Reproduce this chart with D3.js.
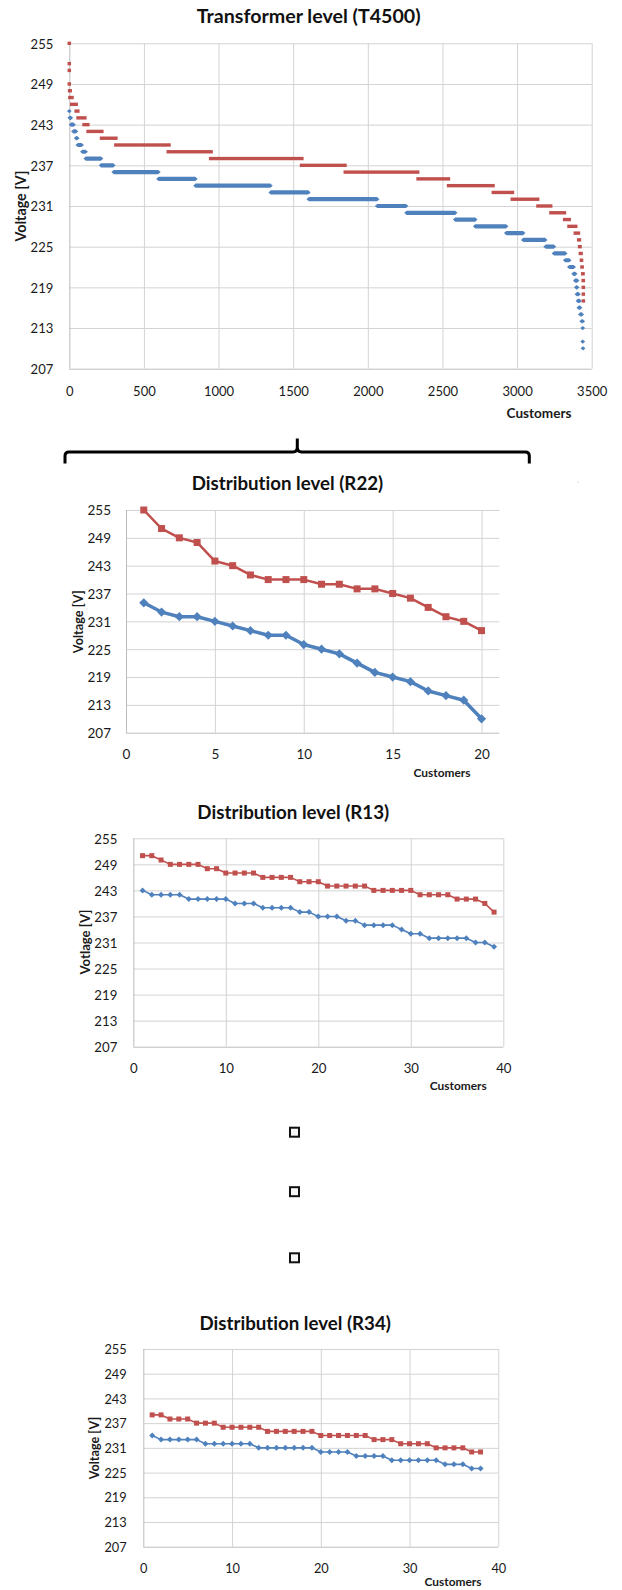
<!DOCTYPE html>
<html><head><meta charset="utf-8">
<script src="https://cdn.jsdelivr.net/npm/d3@7"></script>
<style>body{margin:0;background:#fff}svg{display:block}text{font-variant-ligatures:none;font-feature-settings:"liga" 0,"clig" 0}</style>
</head><body>
<svg id="c" width="622" height="1590"></svg>
<script>
// ---------------- DATA ----------------
const yTicks = [207, 213, 219, 225, 231, 237, 243, 249, 255];

// Transformer level (T4500): sorted voltages, shown as runs of customers at each voltage level
const t4500XTicks = [0, 500, 1000, 1500, 2000, 2500, 3000, 3500];
const t4500MaxV    = [255,252,251,249,248,247,246,245,244,243,242,241,240,239,238,237,236,235,234,233,232,231,230,229,228,227,226,225,224,223,222,221,220,219,218,217];
const t4500MaxFrom = [0,0,0,0,2,4,16,46,59,99,126,216,312,663,947,1556,1849,2337,2541,2841,2968,3140,3227,3319,3348,3390,3413,3419,3424,3431,3435,3440,3443,3444,3444,3444];
const t4500MaxTo   = [0,0,0,0,6,18,46,57,104,124,218,312,668,950,1558,1847,2334,2540,2839,2969,3138,3225,3317,3349,3393,3411,3418,3422,3429,3432,3436,3442,3444,3444,3444,3444];
const t4500MinV    = [245,244,243,242,241,240,239,238,237,236,235,234,233,232,231,230,229,228,227,226,225,224,223,222,221,220,219,218,217,216,215,214,213,211,210];
const t4500MinFrom = [0,3,12,28,46,57,88,111,213,298,598,846,1350,1605,2063,2260,2586,2720,2928,3042,3192,3248,3323,3350,3379,3390,3397,3401,3408,3414,3424,3433,3440,3440,3442];
const t4500MinTo   = [0,10,28,44,53,82,109,212,294,596,844,1347,1601,2062,2256,2585,2719,2926,3040,3188,3246,3322,3349,3379,3389,3402,3402,3411,3418,3422,3433,3440,3440,3440,3442];

// Distribution level (R22)
const r22XTicks = [0, 5, 10, 15, 20];
const r22Customers = [1,2,3,4,5,6,7,8,9,10,11,12,13,14,15,16,17,18,19,20];
const r22Max = [255,251,249,248,244,243,241,240,240,240,239,239,238,238,237,236,234,232,231,229];
const r22Min = [235,233,232,232,231,230,229,228,228,226,225,224,222,220,219,218,216,215,214,210];

// Distribution level (R13)
const r13XTicks = [0, 10, 20, 30, 40];
const r13Customers = [1,2,3,4,5,6,7,8,9,10,11,12,13,14,15,16,17,18,19,20,21,22,23,24,25,26,27,28,29,30,31,32,33,34,35,36,37,38,39];
const r13Max = [251,251,250,249,249,249,249,248,248,247,247,247,247,246,246,246,246,245,245,245,244,244,244,244,244,243,243,243,243,243,242,242,242,242,241,241,241,240,238];
const r13Min = [243,242,242,242,242,241,241,241,241,241,240,240,240,239,239,239,239,238,238,237,237,237,236,236,235,235,235,235,234,233,233,232,232,232,232,232,231,231,230];

// Distribution level (R34)
const r34XTicks = [0, 10, 20, 30, 40];
const r34Customers = [1,2,3,4,5,6,7,8,9,10,11,12,13,14,15,16,17,18,19,20,21,22,23,24,25,26,27,28,29,30,31,32,33,34,35,36,37,38];
const r34Max = [239,239,238,238,238,237,237,237,236,236,236,236,236,235,235,235,235,235,235,234,234,234,234,234,234,233,233,233,232,232,232,232,231,231,231,231,230,230];
const r34Min = [234,233,233,233,233,233,232,232,232,232,232,232,231,231,231,231,231,231,231,230,230,230,230,229,229,229,229,228,228,228,228,228,228,227,227,227,226,226];

// ---------------- DRAWING ----------------
const FONT = "Lato, 'Open Sans', sans-serif";
const RED = '#C0504D', BLUE = '#4F81BD';
const GRID = '#d3d3d3', AXIS = '#bdbdbd', TXT = '#1a1a1a';
const svg = d3.select('#c');

function fit(sel, target) {
  const w = sel.node().getComputedTextLength();
  const fs = parseFloat(sel.attr('font-size'));
  const nfs = fs * target / w;
  sel.attr('font-size', nfs.toFixed(2));
  return nfs;
}

function frame(cfg) {
  const x = d3.scaleLinear().domain(cfg.xDomain).range([cfg.left, cfg.right]);
  const y = d3.scaleLinear().domain([207, 255]).range([cfg.bottom, cfg.top]);
  const W = cfg.right - cfg.left, H = cfg.bottom - cfg.top;
  const g = svg.append('g');

  const ya = g.append('g').attr('transform', `translate(${cfg.left},0)`)
    .call(d3.axisLeft(y).tickValues(yTicks).tickSize(-W).tickPadding(cfg.left - cfg.yLabelRight).tickFormat(d3.format('d')));
  ya.select('.domain').remove();
  ya.selectAll('line').attr('stroke', d => d === 207 ? AXIS : GRID).attr('stroke-width', 1);
  const yt = ya.selectAll('text').attr('font-family', FONT).attr('font-size', 14).attr('fill', TXT).attr('dy', '0.36em');

  const xa = g.append('g').attr('transform', `translate(0,${cfg.bottom})`)
    .call(d3.axisBottom(x).tickValues(cfg.xTicks).tickSize(-H).tickPadding(0).tickFormat(d3.format('d')));
  xa.select('.domain').remove();
  xa.selectAll('line').attr('stroke', d => d === 0 ? AXIS : GRID).attr('stroke-width', 1);
  const xt = xa.selectAll('text').attr('font-family', FONT).attr('font-size', 14).attr('fill', TXT)
    .attr('y', cfg.xLabelBase - cfg.bottom).attr('dy', 0);

  // size tick labels to match reference width of "255"
  const ref = yt.filter(d => d === 255);
  const fs = fit(ref, cfg.tickW);
  yt.attr('font-size', fs.toFixed(2));
  xt.attr('font-size', fs.toFixed(2));

  // title
  const t = g.append('text').text(cfg.title).attr('x', cfg.titleX).attr('y', cfg.titleBase)
    .attr('text-anchor', 'middle').attr('font-family', FONT).attr('font-weight', 'bold')
    .attr('font-size', 18).attr('fill', '#111');
  fit(t, cfg.titleW);

  // x axis title
  const ct = g.append('text').text('Customers').attr('x', cfg.custX).attr('y', cfg.custBase)
    .attr('text-anchor', 'middle').attr('font-family', FONT).attr('font-weight', 'bold')
    .attr('font-size', 12).attr('fill', TXT);
  fit(ct, cfg.custW);

  // y axis title
  const vt = g.append('text').text(cfg.yTitle)
    .attr('transform', `translate(${cfg.vX},${cfg.vY}) rotate(-90)`)
    .attr('text-anchor', 'middle').attr('dy', '0.35em').attr('font-family', FONT).attr('font-weight', 'bold')
    .attr('font-size', 12).attr('fill', TXT);
  fit(vt, cfg.vW);

  return { g, x, y };
}

// ---- Chart 1: Transformer level ----
(function () {
  const { g, x, y } = frame({
    left: 69.3, right: 591.7, top: 43.3, bottom: 368.7, xDomain: [0, 3500], xTicks: t4500XTicks,
    yLabelRight: 53.3, tickW: 22.7, xLabelBase: 396,
    title: 'Transformer level (T4500)', titleX: 308.7, titleBase: 22.5, titleW: 224,
    custX: 539, custBase: 418, custW: 65,
    yTitle: 'Voltage [V]', vX: 20.7, vY: 206, vW: 71
  });
  const red = t4500MaxV.map((v, i) => ({ v, a: t4500MaxFrom[i], b: t4500MaxTo[i] }));
  const blue = t4500MinV.map((v, i) => ({ v, a: t4500MinFrom[i], b: t4500MinTo[i] }));
  g.append('g').selectAll('rect').data(red).join('rect')
    .attr('x', d => x(d.a) - 1.75).attr('width', d => x(d.b) - x(d.a) + 3.5)
    .attr('y', d => y(d.v) - 1.7).attr('height', 3.4).attr('fill', RED);
  g.append('g').selectAll('path').data(blue).join('path')
    .attr('d', d => {
      const x1 = x(d.a), x2 = x(d.b), yy = y(d.v), h = 2.1, t = 2.4;
      return `M${x1 - t},${yy}L${x1},${yy - h}L${x2},${yy - h}L${x2 + t},${yy}L${x2},${yy + h}L${x1},${yy + h}Z`;
    })
    .attr('fill', BLUE);
})();

// ---- Line charts ----
function lineChart(cfg, customers, maxV, minV, st) {
  const { g, x, y } = frame(cfg);
  const line = d3.line().x(d => x(d[0])).y(d => y(d[1]));
  const rd = customers.map((c, i) => [c, maxV[i]]);
  const bd = customers.map((c, i) => [c, minV[i]]);
  g.append('path').datum(rd).attr('d', line).attr('fill', 'none').attr('stroke', RED).attr('stroke-width', st.rw).attr('stroke-linejoin', 'round');
  g.append('g').selectAll('rect').data(rd).join('rect')
    .attr('x', d => x(d[0]) - st.rs / 2).attr('y', d => y(d[1]) - st.rs / 2)
    .attr('width', st.rs).attr('height', st.rs).attr('fill', RED);
  g.append('path').datum(bd).attr('d', line).attr('fill', 'none').attr('stroke', BLUE).attr('stroke-width', st.bw).attr('stroke-linejoin', 'round');
  g.append('g').selectAll('path').data(bd).join('path')
    .attr('d', d => { const cx = x(d[0]), cy = y(d[1]), r = st.bs; return `M${cx},${cy - r}L${cx + r},${cy}L${cx},${cy + r}L${cx - r},${cy}Z`; })
    .attr('fill', BLUE);
}

lineChart({
  left: 126, right: 499.3, top: 510, bottom: 732.7, xDomain: [0, 21], xTicks: r22XTicks,
  yLabelRight: 111, tickW: 23.5, xLabelBase: 759,
  title: 'Distribution level (R22)', titleX: 287.5, titleBase: 490, titleW: 191.6,
  custX: 442, custBase: 777, custW: 57,
  yTitle: 'Voltage [V]', vX: 78.3, vY: 621.7, vW: 63
}, r22Customers, r22Max, r22Min, { rw: 2.5, rs: 7, bw: 3.5, bs: 4.6 });

lineChart({
  left: 133.3, right: 503.3, top: 838.3, bottom: 1046.7, xDomain: [0, 40], xTicks: r13XTicks,
  yLabelRight: 117.3, tickW: 23, xLabelBase: 1073,
  title: 'Distribution level (R13)', titleX: 293.3, titleBase: 818.5, titleW: 192,
  custX: 458.3, custBase: 1090, custW: 57,
  yTitle: 'Votlage [V]', vX: 85, vY: 942, vW: 65
}, r13Customers, r13Max, r13Min, { rw: 1.6, rs: 5, bw: 1.6, bs: 3 });

lineChart({
  left: 143.3, right: 498.3, top: 1349, bottom: 1546.7, xDomain: [0, 40], xTicks: r34XTicks,
  yLabelRight: 126.7, tickW: 22.3, xLabelBase: 1573,
  title: 'Distribution level (R34)', titleX: 295.2, titleBase: 1330, titleW: 191.7,
  custX: 453, custBase: 1585.5, custW: 57,
  yTitle: 'Voltage [V]', vX: 94.3, vY: 1448, vW: 62.7
}, r34Customers, r34Max, r34Min, { rw: 1.6, rs: 5, bw: 1.6, bs: 3 });

// ---- Decorations: brace and "more charts" squares ----
svg.append('path')
  .attr('d', 'M65,463.5 L65,456 Q65,452 69,452 L293,452 Q297.3,452 297.3,447 L297.3,438.5 M297.3,447 Q297.3,452 301.6,452 L525.3,452 Q529.3,452 529.3,456 L529.3,463.5')
  .attr('fill', 'none').attr('stroke', '#000').attr('stroke-width', 3);
svg.append('rect').attr('x', 577.5).attr('y', 481.5).attr('width', 1.5).attr('height', 1).attr('fill', '#cfcfcf');

const squaresY = [1132.2, 1191.7, 1257.8];
svg.append('g').selectAll('rect').data(squaresY).join('rect')
  .attr('x', 294.5 - 4.5).attr('y', d => d - 4.5).attr('width', 9).attr('height', 9)
  .attr('fill', '#f7f7f7').attr('stroke', '#111').attr('stroke-width', 2);
</script>
</body></html>
